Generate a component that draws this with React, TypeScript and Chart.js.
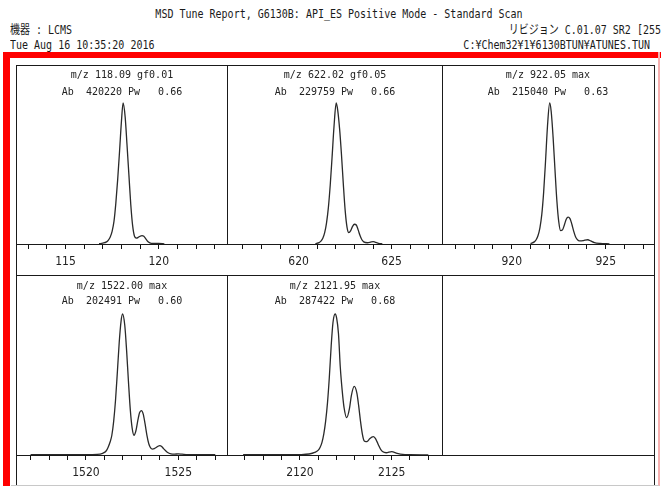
import React, { useEffect, useRef } from "react";
import { Chart, registerables } from "chart.js";

Chart.register(...registerables);

// ---------------- data ----------------
const mz118X = [116.8, 117.0, 117.2, 117.3, 117.4, 117.5, 117.6, 117.7, 117.8, 117.9, 118.0, 118.09, 118.2, 118.3, 118.4, 118.5, 118.6, 118.7, 118.8, 118.9, 119.0, 119.1, 119.2, 119.3, 119.4, 119.5, 119.6, 119.8, 120.0, 120.3];
const mz118Y = [0.002, 0.006, 0.015, 0.028, 0.05, 0.09, 0.16, 0.29, 0.46, 0.66, 0.87, 1.0, 0.9, 0.7, 0.49, 0.28, 0.13, 0.055, 0.042, 0.047, 0.055, 0.06, 0.055, 0.038, 0.02, 0.01, 0.005, 0.004, 0.004, 0.001];

const mz622X = [620.9, 621.1, 621.2, 621.3, 621.4, 621.5, 621.6, 621.7, 621.8, 621.9, 622.02, 622.1, 622.2, 622.3, 622.4, 622.5, 622.6, 622.7, 622.8, 622.9, 623.0, 623.1, 623.2, 623.3, 623.4, 623.5, 623.7, 623.9, 624.0, 624.1, 624.3, 624.5];
const mz622Y = [0.003, 0.01, 0.02, 0.04, 0.08, 0.15, 0.26, 0.42, 0.62, 0.83, 1.0, 0.95, 0.82, 0.64, 0.43, 0.24, 0.12, 0.08, 0.095, 0.125, 0.14, 0.135, 0.1, 0.06, 0.03, 0.015, 0.009, 0.015, 0.017, 0.014, 0.005, 0.001];

const mz922X = [921.0, 921.2, 921.3, 921.4, 921.5, 921.6, 921.7, 921.8, 921.9, 922.02, 922.1, 922.2, 922.3, 922.4, 922.5, 922.6, 922.7, 922.8, 922.9, 923.0, 923.1, 923.2, 923.3, 923.4, 923.5, 923.6, 923.8, 923.9, 924.05, 924.2, 924.4, 924.7, 925.2];
const mz922Y = [0.003, 0.015, 0.03, 0.06, 0.115, 0.21, 0.37, 0.59, 0.83, 1.0, 0.94, 0.76, 0.53, 0.31, 0.16, 0.095, 0.1, 0.135, 0.175, 0.19, 0.18, 0.14, 0.09, 0.05, 0.03, 0.022, 0.024, 0.028, 0.03, 0.022, 0.01, 0.004, 0.001];

const mz1522X = [1517.0, 1518.0, 1519.0, 1520.0, 1520.6, 1520.9, 1521.1, 1521.2, 1521.3, 1521.4, 1521.5, 1521.6, 1521.7, 1521.8, 1521.9, 1521.98, 1522.1, 1522.2, 1522.3, 1522.4, 1522.5, 1522.6, 1522.7, 1522.8, 1522.9, 1523.0, 1523.1, 1523.2, 1523.3, 1523.4, 1523.5, 1523.6, 1523.7, 1523.8, 1523.9, 1524.0, 1524.1, 1524.2, 1524.4, 1524.6, 1524.8, 1525.0, 1525.2, 1525.5, 1526.0, 1527.0];
const mz1522Y = [0.003, 0.003, 0.002, 0.002, 0.004, 0.012, 0.03, 0.055, 0.09, 0.14, 0.24, 0.39, 0.59, 0.8, 0.95, 1.0, 0.92, 0.74, 0.52, 0.32, 0.19, 0.14, 0.17, 0.24, 0.3, 0.315, 0.29, 0.22, 0.14, 0.08, 0.05, 0.042, 0.045, 0.053, 0.062, 0.066, 0.06, 0.045, 0.02, 0.008, 0.006, 0.008, 0.006, 0.003, 0.002, 0.002];

const mz2122X = [2116.9, 2118.0, 2119.0, 2120.0, 2120.5, 2120.8, 2121.0, 2121.1, 2121.2, 2121.3, 2121.4, 2121.5, 2121.6, 2121.7, 2121.8, 2121.92, 2122.0, 2122.1, 2122.2, 2122.3, 2122.4, 2122.55, 2122.7, 2122.8, 2122.96, 2123.1, 2123.2, 2123.3, 2123.4, 2123.5, 2123.6, 2123.7, 2123.8, 2124.0, 2124.1, 2124.2, 2124.3, 2124.4, 2124.5, 2124.7, 2125.0, 2125.3, 2125.6, 2126.0, 2127.0];
const mz2122Y = [0.002, 0.002, 0.002, 0.003, 0.007, 0.018, 0.035, 0.055, 0.09, 0.15, 0.24, 0.37, 0.55, 0.77, 0.94, 1.0, 0.97, 0.86, 0.62, 0.46, 0.34, 0.265, 0.33, 0.42, 0.486, 0.44, 0.35, 0.24, 0.15, 0.1, 0.095, 0.1, 0.115, 0.13, 0.12, 0.095, 0.065, 0.04, 0.025, 0.016, 0.024, 0.012, 0.004, 0.002, 0.001];

const panelTitles = [
  ["m/z 118.09 gf0.01", "Ab  420220 Pw   0.66"],
  ["m/z 622.02 gf0.05", "Ab  229759 Pw   0.66"],
  ["m/z 922.05 max", "Ab  215040 Pw   0.63"],
  ["m/z 1522.00 max", "Ab  202491 Pw   0.60"],
  ["m/z 2121.95 max", "Ab  287422 Pw   0.68"],
];
const axisMin = [112.35, 616.15, 916.29, 1516.21, 2116.02];
const axisMax = [123.71, 627.76, 927.57, 1527.69, 2127.8];
const majorTicks = [[115, 120], [620, 625], [920, 925], [1520, 1525], [2120, 2125]];
const seriesX = [mz118X, mz622X, mz922X, mz1522X, mz2122X];
const seriesY = [mz118Y, mz622Y, mz922Y, mz1522Y, mz2122Y];

const headerTitle = "MSD Tune Report, G6130B: API_ES Positive Mode - Standard Scan";
const headerInstrument = "機器 : LCMS";
const headerRevision = "リビジョン C.01.07 SR2 [255";
const headerDate = "Tue Aug 16 10:35:20 2016";
const headerPath = "C:¥Chem32¥1¥6130BTUN¥ATUNES.TUN";

// ---------------- layout ----------------
const MONO = '"DejaVu Sans Mono", "Liberation Mono", "Noto Sans CJK JP", monospace';
const NARROW = '"Liberation Sans Narrow", "DejaVu Sans Condensed", "Liberation Sans", sans-serif';

const cells = [
  { left: 16, top: 65, w: 212, h: 209, row: 0 },
  { left: 227, top: 65, w: 216, h: 209, row: 0 },
  { left: 442, top: 65, w: 212, h: 209, row: 0 },
  { left: 16, top: 275, w: 212, h: 210, row: 1 },
  { left: 227, top: 275, w: 216, h: 210, row: 1 },
];
const rowTitle = [
  { lh: 1.65, pt: 2.45, pb: 2.55 },
  { lh: 1.45, pt: 4.25, pb: 5.75 },
];

function Panel({ idx }: { idx: number }) {
  const ref = useRef<HTMLCanvasElement | null>(null);
  const cell = cells[idx];
  useEffect(() => {
    if (!ref.current) return;
    const rt = rowTitle[cell.row];
    const xs = seriesX[idx];
    const ys = seriesY[idx];
    const majors = majorTicks[idx];
    const chart = new Chart(ref.current, {
      type: "line",
      data: {
        datasets: [
          {
            data: xs.map((x, i) => ({ x, y: ys[i] })),
            borderColor: "#2a2a2a",
            borderWidth: 1.3,
            pointRadius: 0,
            fill: false,
            cubicInterpolationMode: "monotone",
            clip: false,
          } as any,
        ],
      },
      options: {
        animation: false,
        responsive: false,
        maintainAspectRatio: false,
        layout: { padding: 0 },
        plugins: {
          legend: { display: false },
          tooltip: { enabled: false },
          title: {
            display: true,
            text: panelTitles[idx],
            color: "#222",
            font: { family: MONO, size: 10, weight: "normal", lineHeight: rt.lh },
            padding: { top: rt.pt, bottom: rt.pb },
          },
        },
        scales: {
          x: {
            type: "linear",
            min: axisMin[idx],
            max: axisMax[idx],
            border: { display: true, color: "#111", width: 1 },
            grid: { drawOnChartArea: false, drawTicks: true, tickLength: 5, color: "#111", lineWidth: 1 },
            ticks: {
              stepSize: 1,
              includeBounds: false,
              autoSkip: false,
              maxRotation: 0,
              minRotation: 0,
              padding: 4.7,
              color: "#222",
              font: { family: NARROW, size: 12, lineHeight: 1.3 },
              callback: (v: any) => (majors.includes(Number(v)) ? String(v) : ""),
            },
          },
          y: { display: false, min: 0, max: 1 },
        },
      },
    });
    return () => chart.destroy();
  }, [idx]);
  return (
    <canvas
      ref={ref}
      width={cell.w}
      height={cell.h}
      style={{ position: "absolute", left: cell.left, top: cell.top, width: cell.w, height: cell.h }}
    />
  );
}

const line = (left: number, top: number, width: number, height: number, color = "#1a1a1a") => (
  <div style={{ position: "absolute", left, top, width, height, background: color }} />
);

const textStyle = (extra: React.CSSProperties): React.CSSProperties => ({
  position: "absolute",
  fontFamily: MONO,
  fontSize: 10,
  lineHeight: "14px",
  height: 14,
  whiteSpace: "pre",
  color: "#1a1a1a",
  ...extra,
});

export default function App() {
  return (
    <div style={{ position: "absolute", left: 0, top: 0, width: 661, height: 486, overflow: "hidden", background: "#fff" }}>
      <div style={textStyle({ left: 339, top: 7, transform: "translateX(-50%) scaleY(1.25)" })}>{headerTitle}</div>
      <div style={textStyle({ left: 10, top: 23, transform: "scaleY(1.25)" })}>{headerInstrument}</div>
      <div style={textStyle({ right: 0, top: 23, transform: "scaleY(1.25)" })}>{headerRevision}</div>
      <div style={textStyle({ left: 10, top: 38, transform: "scaleY(1.25)" })}>{headerDate}</div>
      <div style={textStyle({ right: 11, top: 38, transform: "scaleY(1.25)" })}>{headerPath}</div>

      {line(3, 52, 658, 6, "#ff0000")}
      {line(3, 52, 7, 434, "#ff0000")}
      {line(658, 52, 2, 434, "#f6b0b0")}

      {cells.map((_, i) => (
        <Panel key={i} idx={i} />
      ))}

      {line(16, 65, 639, 1)}
      {line(16, 244, 639, 1)}
      {line(16, 275, 639, 1)}
      {line(16, 455, 639, 1)}
      {line(11, 485, 648, 1, "#c8c8c8")}
      {line(16, 65, 1, 420)}
      {line(654, 65, 1, 420)}
      {line(227, 65, 1, 179)}
      {line(442, 65, 1, 179)}
      {line(227, 275, 1, 180)}
      {line(442, 275, 1, 180)}
    </div>
  );
}
